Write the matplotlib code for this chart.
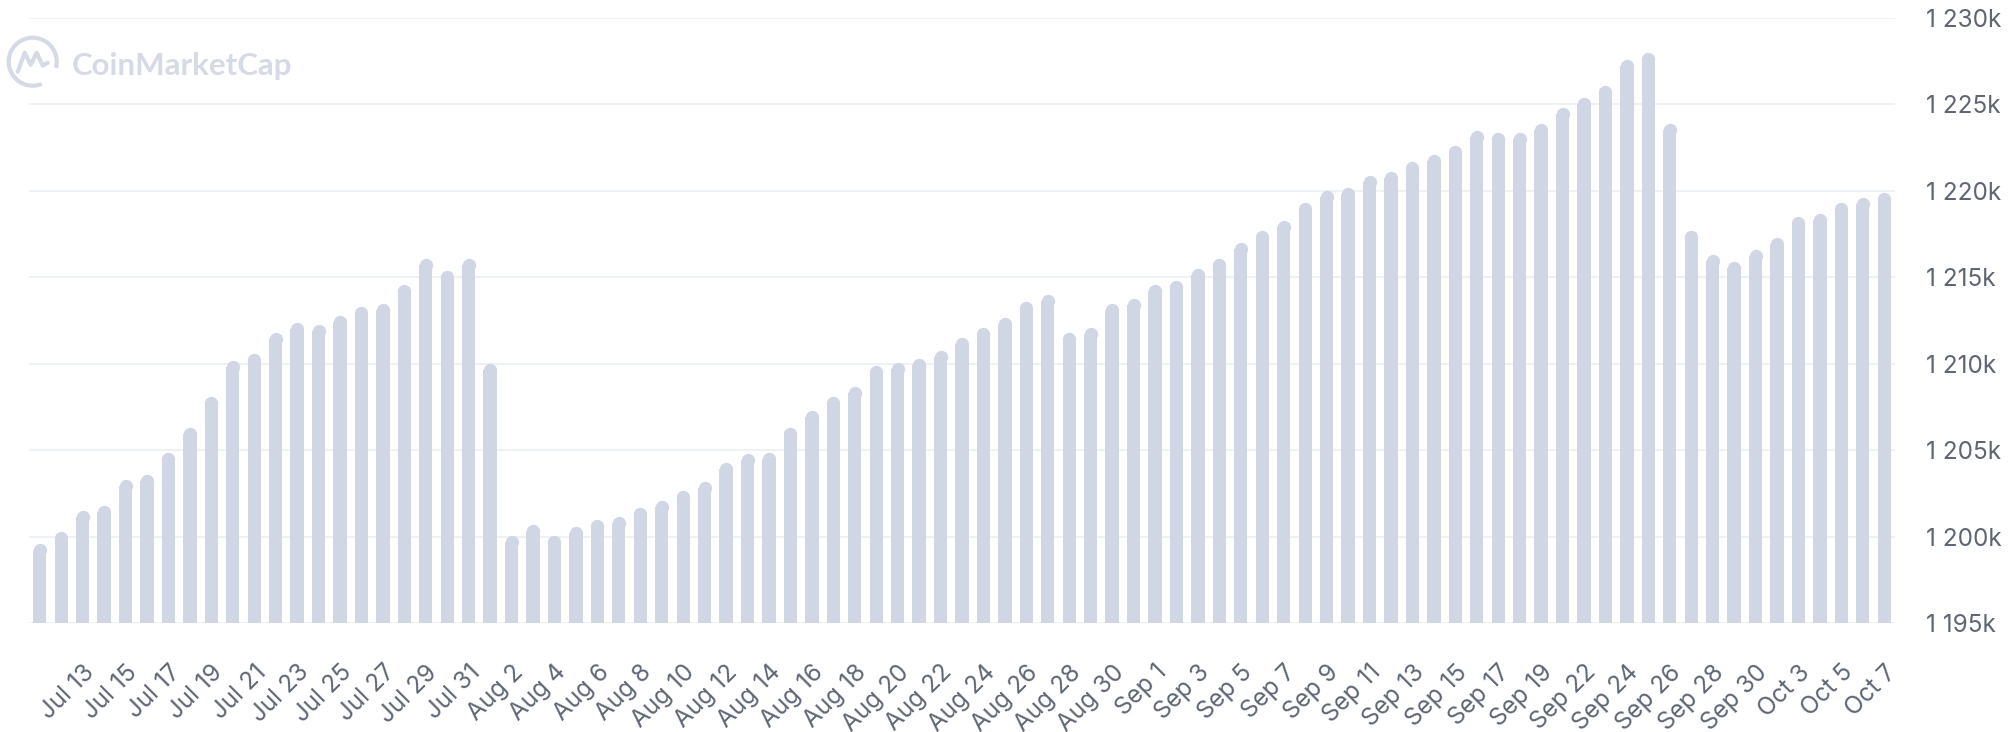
import matplotlib
matplotlib.use("Agg")
import matplotlib.pyplot as plt
from matplotlib.patches import Arc
import numpy as np
import pandas as pd

# daily values in thousands, Jul 11 .. Oct 7 (two days missing in the feed)
dates = pd.date_range("2023-07-11", "2023-10-07").drop(
    pd.to_datetime(["2023-09-21", "2023-10-02"]))
values = [
    1199.6, 1200.3, 1201.55, 1201.8, 1203.3, 1203.6, 1204.9, 1206.3, 1208.1, 1210.2,
    1210.6, 1211.8, 1212.4, 1212.3, 1212.8, 1213.3, 1213.5, 1214.6, 1216.1, 1215.4,
    1216.1, 1210.0, 1200.05, 1200.7, 1200.05, 1200.6, 1201.0, 1201.2, 1201.7, 1202.1,
    1202.7, 1203.2, 1204.3, 1204.8, 1204.9, 1206.3, 1207.3, 1208.1, 1208.7, 1209.9,
    1210.1, 1210.3, 1210.8, 1211.5, 1212.1, 1212.7, 1213.6, 1214.0, 1211.8, 1212.1,
    1213.5, 1213.8, 1214.6, 1214.8, 1215.5, 1216.1, 1217.0, 1217.7, 1218.3, 1219.35,
    1220.0, 1220.2, 1220.9, 1221.1, 1221.7, 1222.1, 1222.6, 1223.5, 1223.4, 1223.4,
    1223.9, 1224.8, 1225.4, 1226.1, 1227.6, 1228.0, 1223.9, 1217.7, 1216.3, 1215.9,
    1216.6, 1217.3, 1218.5, 1218.7, 1219.35, 1219.6, 1219.9,
]
y_ticks = [1195, 1200, 1205, 1210, 1215, 1220, 1225, 1230]
x_labels = [f"{d:%b} {d.day}" for d in dates[2::2]]

BAR_COLOR = "#D0D6E4"
GRID_COLOR = "#EFF2F5"
TEXT_COLOR = "#5E6573"
LOGO_COLOR = "#D5DAE6"

plt.rcParams["font.family"] = ["Inter", "DejaVu Sans"]

W, H, DPI = 2009, 732, 100
fig = plt.figure(figsize=(W / DPI, H / DPI), dpi=DPI)
ax = fig.add_axes([29 / W, (H - 623.2) / H, (1895 - 29) / W, (623.2 - 17.8) / H])

x = np.arange(len(values))
vals = np.array(values)
ax.set_xlim(-0.5, len(values) - 0.5)
ax.set_ylim(y_ticks[0], y_ticks[-1])

# rounded bar tops: rectangle + circle of the same width
bar_w = 0.62
px_x = ax.bbox.width / len(values)
px_y = ax.bbox.height / (y_ticks[-1] - y_ticks[0])
r = bar_w * px_x / 2 / px_y
ax.bar(x, vals - r - y_ticks[0], bottom=y_ticks[0], width=bar_w,
       color=BAR_COLOR, linewidth=0, zorder=2)
ax.scatter(x, vals - r, s=(bar_w * px_x * 72 / DPI) ** 2, color=BAR_COLOR,
           linewidths=0, zorder=2)

ax.set_yticks(y_ticks)
ax.set_yticklabels([f"{v:,}".replace(",", " ") + "k" for v in y_ticks])
ax.yaxis.tick_right()
ax.grid(axis="y", color=GRID_COLOR, lw=1.4, zorder=0)
ax.set_axisbelow(True)

ax.set_xticks(x[2::2])
ax.set_xticklabels(x_labels)
plt.setp(ax.get_xticklabels(), rotation=45, ha="right", rotation_mode="anchor")
ax.tick_params(axis="x", length=0, pad=27, labelsize=17.5, colors=TEXT_COLOR)
ax.tick_params(axis="y", length=0, pad=22, labelsize=17.5, colors=TEXT_COLOR)
for s in ax.spines.values():
    s.set_visible(False)

# watermark
lg = fig.add_axes([(32.7 - 28) / W, (H - 61.7 - 28) / H, 56 / W, 56 / H])
lg.set_xlim(-28, 28)
lg.set_ylim(-28, 28)
lg.axis("off")
lg.add_patch(Arc((0, 0), 48, 48, theta1=-15, theta2=292, color=LOGO_COLOR, lw=3))
lg.plot([-15, -8, -2, 4, 10, 15], [-10, 9, -3, 9, -4, -1], color=LOGO_COLOR, lw=3,
        solid_joinstyle="round", solid_capstyle="round")
fig.text(72 / W, 1 - 75 / H, "CoinMarketCap", fontsize=22.5, fontweight="bold",
         family="Lato", color=LOGO_COLOR, va="baseline")

fig.savefig("out.png", dpi=DPI)
